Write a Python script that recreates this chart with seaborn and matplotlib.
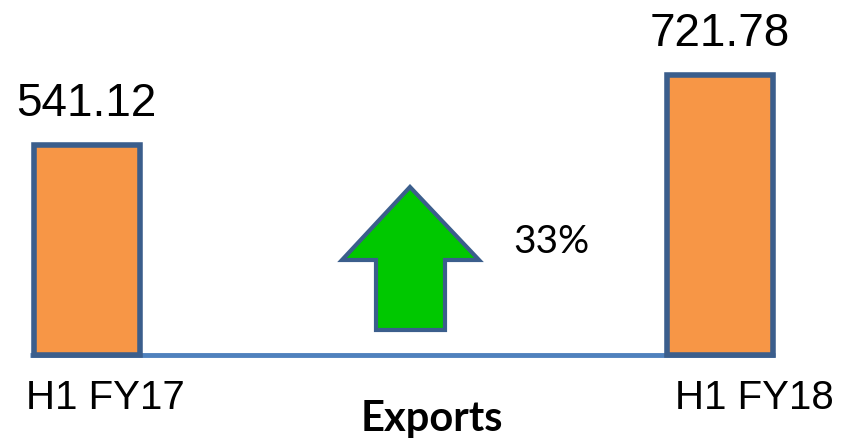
import matplotlib
matplotlib.use("Agg")
import matplotlib.pyplot as plt
import seaborn as sns
import pandas as pd
from matplotlib.patches import Polygon

# data
periods = ["H1 FY17", "H1 FY18"]
exports = [541.12, 721.78]
growth_label = "33%"
axis_title = "Exports"

df = pd.DataFrame({"Period": periods, "Exports": exports})

sns.set_style("white")
plt.rcParams["font.family"] = ["Liberation Sans", "DejaVu Sans"]

W, H = 846, 441
fig = plt.figure(figsize=(W / 100, H / 100), dpi=100)
ax = fig.add_axes([0, 0, 1, 1])

# baseline behind the bars
ax.hlines(0, -0.09, 1.087, color="#4F81BD", linewidth=3.5, zorder=1)

sns.barplot(
    data=df, x="Period", y="Exports", ax=ax,
    color="#F79646", width=0.167, saturation=1,
    edgecolor="#3B5E8C", linewidth=4, zorder=2,
)

# value labels above bars
ax.bar_label(ax.containers[0], labels=[f"{v:.2f}" for v in exports],
             padding=14, fontsize=33, color="black")

# category labels under the axis
x_shift = [0.03, 0.055]
for i, p in enumerate(periods):
    ax.text(i + x_shift[i], -140, p, ha="center", va="baseline",
            fontsize=29, color="black")

ax.set_xlim(-0.137, 1.199)
ax.set_ylim(-221.6, 915.1)
ax.axis("off")

# growth arrow (decoration, in figure pixels)
pts = [(410, 187), (479, 260), (445, 260), (445, 330), (376, 330),
       (376, 260), (342, 260)]
arrow = Polygon([(x / W, 1 - y / H) for x, y in pts], closed=True,
                transform=fig.transFigure, facecolor="#00C800",
                edgecolor="#3B5E8C", linewidth=3, joinstyle="miter")
fig.add_artist(arrow)

fig.text(513 / W, 1 - 253 / H, growth_label, ha="left", va="baseline",
         fontsize=28, family=["Lato", "DejaVu Sans"], color="black")
fig.text(432 / W, 1 - 431 / H, axis_title, ha="center", va="baseline",
         fontsize=30, fontweight="bold", family=["Lato", "DejaVu Sans"],
         color="black")

fig.savefig("out.png", dpi=100, facecolor="white")
